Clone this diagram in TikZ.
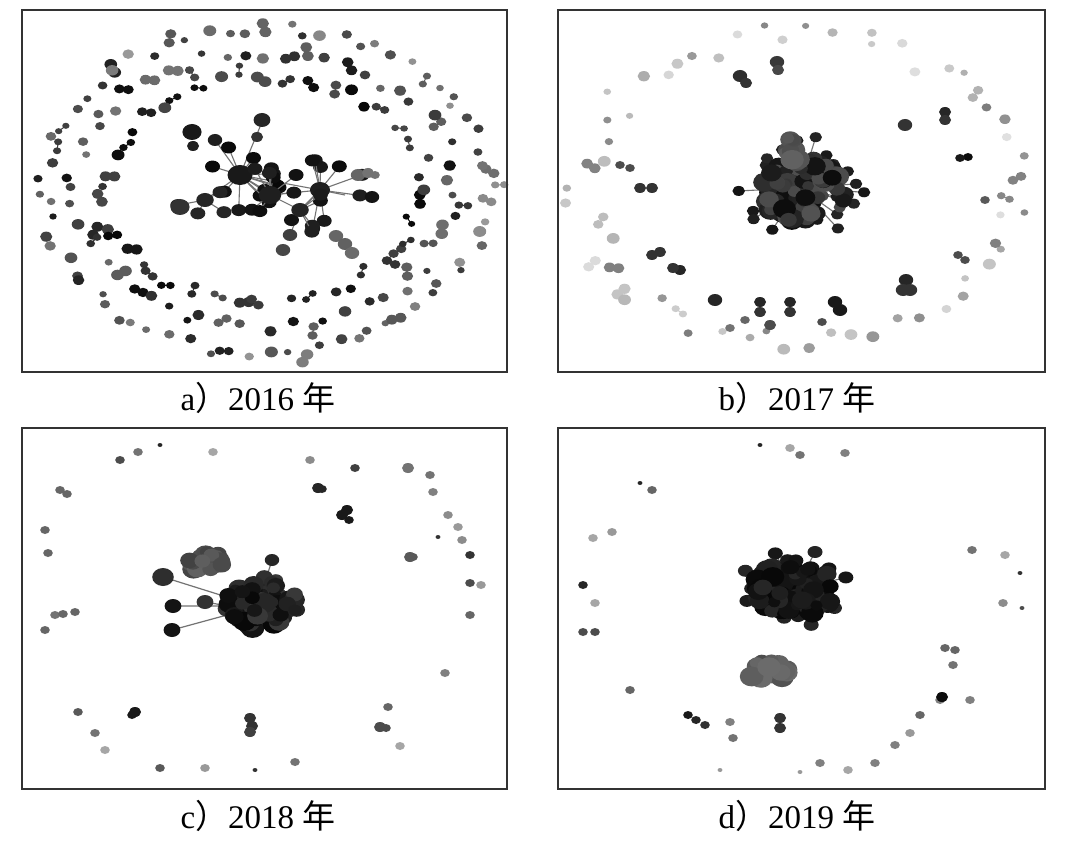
\documentclass[tikz,border=0pt]{standalone}
\usepackage{fontspec}
\setmainfont{Liberation Serif}
\newfontfamily\cjk{Noto Sans CJK SC}
\newcommand\dotring[9]{%
 \foreach \k in {1,...,#5}{%
  \pgfmathsetmacro\ang{\k/#5*360+(rnd-0.5)*300/#5}%
  \pgfmathsetmacro\rf{1+(rnd-0.5)*#6}%
  \pgfmathsetmacro\px{#1+#3*\rf*cos(\ang)}%
  \pgfmathsetmacro\py{#2-#4*\rf*sin(\ang)}%
  \pgfmathtruncatemacro\g{#7+rnd*#8}%
  \pgfmathsetmacro\dsz{3+rnd*2.5}%
  \pgfmathtruncatemacro\pr{rnd<#9?1:0}%
  \ifnum\pr=1
    \pgfmathsetmacro\pa{rnd*360}%
    \pgfmathsetmacro\qx{\px+9*cos(\pa)}\pgfmathsetmacro\qy{\py+9*sin(\pa)}%
    \draw[black!\g,line width=1pt] (\px,\py)--(\qx,\qy);
    \fill[black!\g] (\qx,\qy) ellipse[x radius={\dsz*1.2},y radius=\dsz];
  \fi
  \fill[black!\g] (\px,\py) ellipse[x radius={\dsz*1.2},y radius=\dsz];
 }}
\newcommand\hubspokes[7]{%
  \foreach \k in {1,...,#3}{%
    \pgfmathsetmacro\ang{rnd*360}%
    \pgfmathsetmacro\lenv{#4*(0.55+0.45*rnd)}%
    \pgfmathsetmacro\px{#1+\lenv*cos(\ang)}\pgfmathsetmacro\py{#2+0.8*\lenv*sin(\ang)}%
    \pgfmathtruncatemacro\g{#5+rnd*8}%
    \draw[black!55,line width=1.1pt] (#1,#2)--(\px,\py);
    \fill[black!\g] (\px,\py) ellipse[x radius={#6*1.25},y radius={#6}];
  }
  \fill[black!#5] (#1,#2) ellipse[x radius={#7*1.25},y radius={#7}];
}
\newcommand\blobby[7]{%
 \foreach \k in {1,...,#5}{%
  \pgfmathsetmacro\ang{rnd*360}\pgfmathsetmacro\rr{sqrt(rnd)}%
  \pgfmathsetmacro\px{#1+#3*\rr*cos(\ang)}\pgfmathsetmacro\py{#2+#4*\rr*sin(\ang)}%
  \pgfmathtruncatemacro\g{#6+rnd*#7}\pgfmathsetmacro\dsz{5+rnd*5}%
  \fill[black!\g] (\px,\py) ellipse[x radius={\dsz*1.2},y radius=\dsz];}}
\newcommand\dotlist[1]{%
 \foreach \x/\y/\g/\r in {#1}{\fill[black!\g] (\x,\y) ellipse[x radius={\r*1.2},y radius=\r];}}
\tikzset{frame/.style={draw=black!80,line width=1.3pt},
 caption/.style={font=\fontsize{33}{35}\selectfont,anchor=center,inner sep=0pt}}
\begin{document}
\begin{tikzpicture}[x=1pt,y=-1pt]
\fill[white] (0,0) rectangle (1070,842);
\useasboundingbox (0,0) rectangle (1070,842);
% ---------- panel a ----------
\pgfmathsetseed{11}
\dotring{265}{190}{222}{163}{72}{0.08}{40}{50}{0.1}
\dotring{265}{190}{192}{138}{56}{0.1}{55}{40}{0.3}
\dotring{265}{190}{162}{113}{44}{0.1}{70}{28}{0.5}
\draw[black!55,line width=1.1pt] (240,175)--(270,195)--(320,190)--(345,195) (205,200)--(240,175) (270,195)--(300,210)--(320,190) (240,175)--(320,190) (300,210)--(290,235) (240,175)--(262,122) (240,175)--(215,140);
\hubspokes{240}{175}{11}{45}{90}{6}{10}
\hubspokes{270}{195}{8}{40}{88}{6}{9}
\hubspokes{320}{190}{9}{50}{88}{6}{8}
\hubspokes{205}{200}{4}{32}{85}{6}{7}
\hubspokes{300}{210}{4}{34}{86}{6}{7}
\dotlist{262/120/85/7,257/137/80/5,215/140/88/6,192/132/90/8,193/146/88/5,358/175/60/6,368/173/55/5,375/175/55/4,336/236/60/6,345/244/62/6,352/253/58/6,290/235/75/6,283/250/72/6,180/207/80/8,372/197/92/6}
\draw[frame] (22,10) rectangle (507,372);
\node[caption] (capa) at (258,398) {a{\cjk ）}2016 {\cjk 年}};
% ---------- panel b ----------
\pgfmathsetseed{23}
\dotring{800}{190}{218}{155}{58}{0.18}{12}{40}{0.12}
\dotlist{740/76/82/6,746/83/80/5,777/62/78/6,778/70/72/5,905/125/80/6,945/112/85/5,945/120/80/5,968/157/95/4,960/158/90/4,640/188/80/5,652/188/80/5,652/255/80/5,660/252/80/5,680/270/85/5,673/268/80/5,906/280/85/6,910/290/80/6,903/290/80/6,715/300/85/6,760/302/85/5,760/312/80/5,790/302/85/5,790/312/80/5,835/302/90/6,840/310/90/6,770/325/70/5,620/165/70/4,630/168/70/4,985/200/65/4,958/255/70/4,965/260/70/4,822/322/70/4,745/320/60/4,730/328/55/4}
\hubspokes{800}{188}{26}{66}{85}{5}{12}
\blobby{803}{192}{42}{34}{100}{68}{28}
\blobby{790}{152}{10}{15}{12}{62}{12}
\draw[frame] (558,10) rectangle (1045,372);
\node[caption] (capb) at (797,398) {b{\cjk ）}2017 {\cjk 年}};
% ---------- panel c ----------
\pgfmathsetseed{37}
\dotlist{120/460/70/4,160/445/85/2,138/452/55/4,213/452/35/4,310/460/45/4,355/468/75/4,318/488/85/5,322/489/85/4,342/515/90/5,347/510/90/5,349/520/90/4,408/468/55/5,430/475/55/4,433/492/50/4,448/515/45/4,458/527/40/4,462/540/45/4,470/555/80/4,481/585/40/4,470/583/70/4,470/615/60/4,410/557/65/5,413/557/65/4,445/673/50/4,388/707/60/4,380/727/70/5,386/728/70/4,400/746/35/4,295/762/55/4,255/770/80/2,205/768/40/4,160/768/65/4,105/750/35/4,95/733/55/4,78/712/65/4,135/712/90/5,132/715/90/4,250/718/80/5,252/726/80/5,250/732/75/5,45/530/60/4,48/553/60/4,55/615/55/4,63/614/60/4,75/612/60/4,45/630/60/4,60/490/60/4,67/494/60/4,438/537/80/2}
\draw[black!55,line width=1.2pt] (230,598)--(163,577) (235,606)--(172,606) (238,612)--(172,630) (240,608)--(205,602) (262,592)--(272,560);
\dotlist{163/577/82/9,173/606/92/7,172/630/92/7,205/602/80/7,272/560/85/6}
\blobby{205}{562}{20}{11}{22}{62}{14}
\blobby{262}{603}{36}{26}{80}{78}{20}
\draw[frame] (22,428) rectangle (507,789);
\node[caption] (capc) at (258,816) {c{\cjk ）}2018 {\cjk 年}};
% ---------- panel d ----------
\pgfmathsetseed{51}
\dotlist{760/445/85/2,790/448/35/4,800/455/55/4,845/453/50/4,640/483/85/2,652/490/60/4,612/532/40/4,593/538/35/4,583/585/85/4,595/603/35/4,583/632/70/4,595/632/70/4,630/690/60/4,688/715/90/4,696/720/85/4,705/725/80/4,730/722/50/4,733/738/55/4,780/718/80/5,780/728/80/5,820/763/50/4,848/770/35/4,875/763/50/4,895/745/50/4,910/733/40/4,920/715/60/4,940/700/50/4,945/648/60/4,955/650/60/4,953/665/55/4,970/700/50/4,972/550/55/4,1005/555/35/4,1003/603/45/4,1020/573/80/2,1022/608/70/2,942/697/95/5,720/770/40/2,800/772/40/2}
\hubspokes{795}{590}{12}{58}{85}{6}{10}
\blobby{795}{588}{40}{28}{90}{85}{13}
\blobby{768}{672}{20}{12}{26}{58}{14}
\draw[frame] (558,428) rectangle (1045,789);
\node[caption] (capd) at (797,816) {d{\cjk ）}2019 {\cjk 年}};
\end{tikzpicture}
\end{document}
